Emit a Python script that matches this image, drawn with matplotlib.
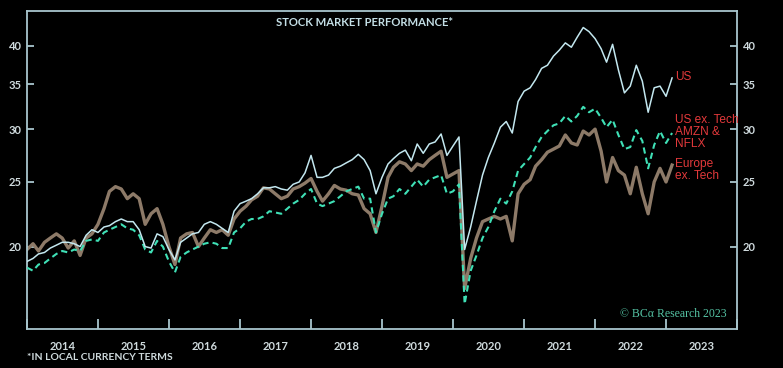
import numpy as np
import pandas as pd
import matplotlib
matplotlib.use("Agg")
import matplotlib.pyplot as plt
import matplotlib.dates as mdates
from matplotlib.ticker import FixedLocator, FixedFormatter, NullLocator

# monthly readings, Jan 2014 .. Feb 2023
dates = pd.date_range("2014-01-01", "2023-02-01", freq="MS")

us = [
    19.0, 19.2, 19.5, 19.6, 19.9, 20.1, 20.3, 20.3, 20.2, 20.0, 20.8, 21.2,   # 2014
    21.0, 21.4, 21.5, 21.8, 22.0, 21.8, 21.8, 21.2, 20.0, 19.9, 20.9, 20.7,   # 2015
    19.8, 19.1, 20.3, 20.6, 20.9, 21.0, 21.6, 21.8, 21.6, 21.3, 21.0, 22.6,   # 2016
    23.2, 23.4, 23.6, 24.0, 24.5, 24.5, 24.6, 24.4, 24.3, 24.8, 25.0, 25.8,   # 2017
    27.4, 25.4, 25.4, 25.6, 26.2, 26.4, 26.7, 27.0, 27.5, 27.0, 26.0, 24.0,   # 2018
    25.4, 26.6, 27.1, 27.6, 27.9, 26.9, 28.5, 27.6, 28.5, 28.7, 29.5, 27.4,   # 2019
    28.3, 29.2, 19.8, 21.4, 23.4, 25.6, 27.2, 28.6, 30.2, 30.8, 29.6, 33.0,   # 2020
    34.2, 34.6, 35.6, 37.0, 37.4, 38.6, 39.4, 40.4, 39.8, 41.2, 42.6, 42.0,   # 2021
    41.0, 39.6, 37.8, 40.2, 36.8, 34.0, 34.8, 37.4, 35.4, 31.8, 34.6, 34.8,   # 2022
    33.6, 35.8,                                                               # 2023
]

us_ex_tech = [
    18.6, 18.4, 18.8, 18.9, 19.2, 19.5, 19.7, 19.6, 19.8, 19.7, 20.4, 20.5,
    20.4, 21.0, 21.2, 21.4, 21.6, 21.3, 21.2, 20.8, 19.8, 19.6, 20.4, 20.0,
    19.0, 18.3, 19.3, 19.6, 19.8, 20.0, 20.2, 20.3, 20.2, 19.9, 19.9, 21.0,
    21.3, 21.8, 22.0, 22.0, 22.2, 22.6, 22.5, 22.4, 22.8, 23.2, 23.5, 24.0,
    24.4, 23.2, 23.0, 23.2, 23.4, 23.8, 24.2, 24.4, 24.6, 23.6, 23.6, 21.0,
    22.4, 23.6, 23.8, 24.4, 24.0, 24.6, 25.2, 24.6, 25.2, 25.4, 25.6, 24.0,
    24.2, 24.8, 16.4, 18.4, 19.4, 20.6, 21.4, 22.6, 23.6, 23.2, 24.2, 26.0,
    26.6, 27.2, 28.2, 29.2, 29.8, 30.4, 30.6, 31.4, 30.8, 31.4, 32.4, 31.8,
    32.2, 31.2, 30.2, 31.0, 29.4, 28.0, 28.2, 29.9, 28.8, 26.2, 28.4, 29.8,
    28.6, 29.6,
]

europe_ex_tech = [
    19.8, 20.2, 19.7, 20.3, 20.6, 20.9, 20.6, 19.9, 20.4, 19.4, 20.6, 20.9,
    21.6, 22.8, 24.2, 24.6, 24.4, 23.6, 24.0, 23.6, 21.6, 22.4, 22.8, 21.6,
    20.0, 18.8, 20.6, 20.9, 21.0, 20.0, 20.6, 21.2, 21.0, 21.2, 20.8, 22.0,
    22.6, 23.0, 23.5, 23.8, 24.5, 24.4, 24.0, 23.6, 23.8, 24.4, 24.6, 24.9,
    25.3, 24.2, 23.4, 24.0, 24.7, 24.4, 24.3, 24.0, 23.9, 22.8, 22.4, 21.0,
    23.0, 25.4, 26.3, 26.8, 26.6, 26.0, 26.6, 26.4, 27.0, 27.4, 27.8, 25.4,
    25.7, 26.0, 17.3, 19.2, 20.6, 21.8, 22.0, 22.2, 22.0, 22.2, 20.4, 24.0,
    24.8, 25.2, 26.4, 27.0, 27.7, 28.0, 28.3, 29.4, 28.6, 28.4, 29.8, 29.4,
    30.0, 27.8, 25.0, 27.2, 26.0, 25.6, 24.0, 26.3, 24.0, 22.4, 25.0, 26.2,
    25.0, 26.5,
]

yticks = [20, 25, 30, 35, 40]
bg = "black"
axis_col = "#a9c6cd"
text_col = "#cfdadd"

fig = plt.figure(figsize=(7.83, 3.68), dpi=100, facecolor=bg)
ax = fig.add_axes([27 / 783, 1 - 329 / 368, 710 / 783, 318 / 368], facecolor=bg)

ax.plot(dates, europe_ex_tech, color="#8d7a68", lw=2.4, zorder=2)
ax.plot(dates, us_ex_tech, color="#3fe0b6", lw=1.5, ls=(0, (3, 2)), zorder=3)
ax.plot(dates, us, color="#c3e7ef", lw=1.1, zorder=4)

ax.set_yscale("log")
ax.set_ylim(15.05, 45.1)
ax.yaxis.set_major_locator(FixedLocator(yticks))
ax.yaxis.set_major_formatter(FixedFormatter([str(t) for t in yticks]))
ax.yaxis.set_minor_locator(NullLocator())

ax.set_xlim(pd.Timestamp("2014-01-01"), pd.Timestamp("2024-01-01"))
ax.xaxis.set_major_locator(mdates.YearLocator())
ax.xaxis.set_major_formatter(plt.NullFormatter())
ax.xaxis.set_minor_locator(mdates.MonthLocator(bymonth=7))
ax.xaxis.set_minor_formatter(mdates.DateFormatter("%Y"))

for s in ax.spines.values():
    s.set_color(axis_col)
    s.set_linewidth(1.3)

ax.tick_params(axis="y", which="major", direction="in", length=5, width=1.3,
               color=axis_col, labelcolor=text_col, labelsize=8,
               left=True, right=True, labelleft=True, labelright=True, pad=4)
ax.tick_params(axis="x", which="major", direction="in", length=7, width=1.3,
               color=axis_col)
ax.tick_params(axis="x", which="minor", length=0, labelcolor=text_col,
               labelsize=8, pad=9)
for lab in ax.get_yticklabels() + ax.get_xticklabels(minor=True):
    lab.set_fontfamily("Lato")
    lab.set_fontweight("bold")

fig.text(365 / 783, 1 - 22 / 368, "STOCK MARKET PERFORMANCE*",
         ha="center", va="center", color="#c4dfe6", fontsize=8.1,
         fontfamily="Lato", fontweight="bold")

red = "#e3393b"
fig.text(675 / 783, 1 - 77 / 368, "US",
         ha="left", va="center", color=red, fontsize=8.6, fontfamily="Liberation Sans")
fig.text(675 / 783, 1 - 132 / 368, "US ex. Tech\nAMZN &\nNFLX",
         ha="left", va="center", color=red, fontsize=8.6, fontfamily="Liberation Sans",
         linespacing=1.0)
fig.text(675 / 783, 1 - 170 / 368, "Europe\nex. Tech",
         ha="left", va="center", color=red, fontsize=8.6, fontfamily="Liberation Sans",
         linespacing=1.0)

fig.text(727 / 783, 1 - 314 / 368, "© BCα Research 2023",
         ha="right", va="center", color="#55c3a4", fontsize=8.5,
         fontfamily="Liberation Serif")

fig.text(27 / 783, 1 - 357 / 368, "*IN LOCAL CURRENCY TERMS", ha="left", va="center",
         color=text_col, fontsize=7.5, fontfamily="Lato", fontweight="bold")

fig.savefig("out.png", dpi=100, facecolor=bg)
